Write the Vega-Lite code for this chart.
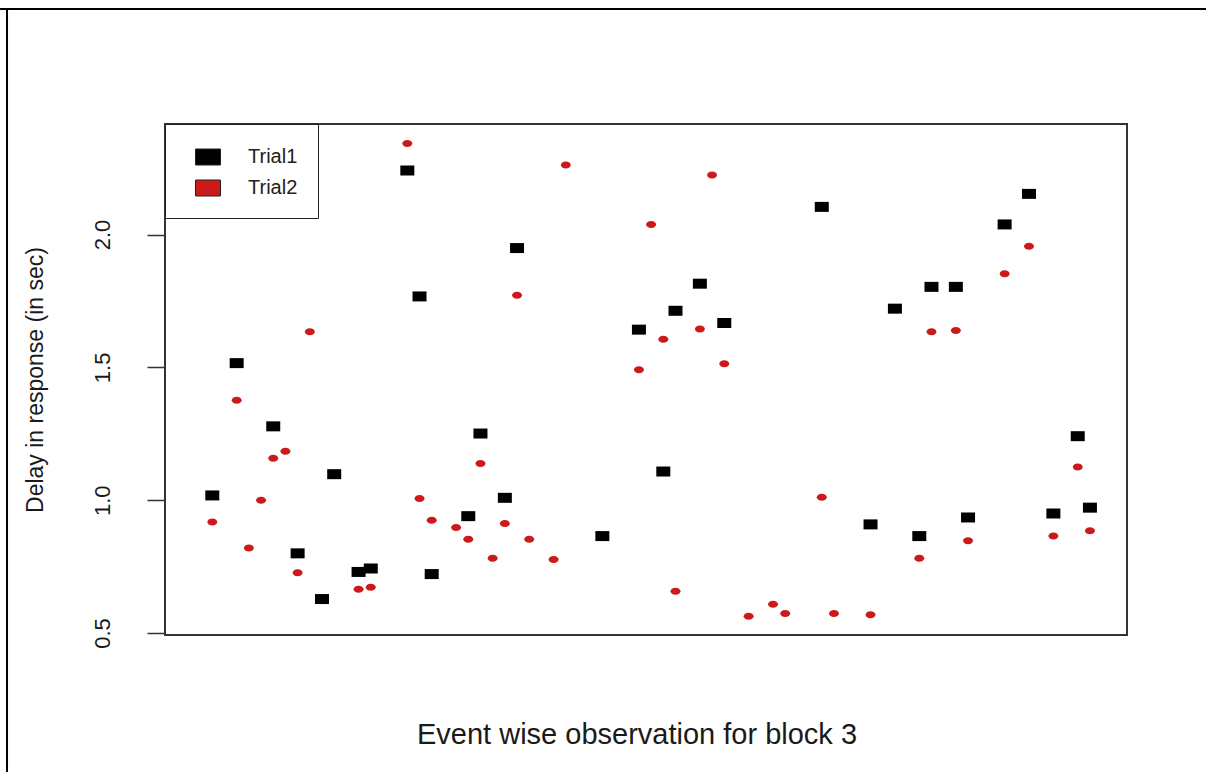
{
  "$schema": "https://vega.github.io/schema/vega-lite/v6.json",
  "width": 962,
  "height": 511,
  "autosize": {"type": "none"},
  "padding": {"left": 165, "top": 124, "right": 79, "bottom": 137},
  "background": "white",
  "config": {
    "view": {"stroke": "#333333", "strokeWidth": 2},
    "font": "Liberation Sans",
    "axis": {"grid": false},
    "axisY": {
      "domain": false, "grid": false,
      "tickSize": 18, "tickWidth": 1.5, "tickColor": "#333333",
      "labelAngle": 270, "labelAlign": "center", "labelBaseline": "middle",
      "labelPadding": 45, "labelFontSize": 22, "labelColor": "#1a1a1a",
      "labelFlush": false, "labelOverlap": false,
      "titleFontSize": 23, "titleFontWeight": "normal", "titleColor": "#1a1a1a",
      "titleX": -130, "titleY": 255.5, "titleAngle": 270,
      "titleAlign": "center", "titleBaseline": "middle"
    },
    "axisX": {
      "ticks": false, "labels": false, "domain": false, "grid": false,
      "titleFontSize": 29, "titleFontWeight": "normal", "titleColor": "#1a1a1a",
      "titleX": 471.5, "titleY": 108, "titleBaseline": "alphabetic", "titleAlign": "center"
    },
    "legend": {
      "orient": "top-left", "offset": 0, "padding": 20,
      "strokeColor": "#222222", "fillColor": "white",
      "symbolSize": 625, "symbolOffset": 10, "labelOffset": 27,
      "labelFontSize": 20, "labelColor": "#222222", "rowPadding": 8,
      "symbolStrokeColor": "#222222", "symbolStrokeWidth": 1, "symbolOpacity": 1
    }
  },
  "datasets": {
    "delays": [
      {"event": 2, "trial": "Trial1", "delay": 1.018},
      {"event": 4, "trial": "Trial1", "delay": 1.516},
      {"event": 7, "trial": "Trial1", "delay": 1.278},
      {"event": 9, "trial": "Trial1", "delay": 0.800},
      {"event": 11, "trial": "Trial1", "delay": 0.628},
      {"event": 12, "trial": "Trial1", "delay": 1.098},
      {"event": 14, "trial": "Trial1", "delay": 0.730},
      {"event": 15, "trial": "Trial1", "delay": 0.743},
      {"event": 18, "trial": "Trial1", "delay": 2.241},
      {"event": 19, "trial": "Trial1", "delay": 1.767},
      {"event": 20, "trial": "Trial1", "delay": 0.722},
      {"event": 23, "trial": "Trial1", "delay": 0.940},
      {"event": 24, "trial": "Trial1", "delay": 1.251},
      {"event": 26, "trial": "Trial1", "delay": 1.009},
      {"event": 27, "trial": "Trial1", "delay": 1.949},
      {"event": 34, "trial": "Trial1", "delay": 0.865},
      {"event": 37, "trial": "Trial1", "delay": 1.642},
      {"event": 39, "trial": "Trial1", "delay": 1.108},
      {"event": 40, "trial": "Trial1", "delay": 1.713},
      {"event": 42, "trial": "Trial1", "delay": 1.815},
      {"event": 44, "trial": "Trial1", "delay": 1.667},
      {"event": 52, "trial": "Trial1", "delay": 2.104},
      {"event": 56, "trial": "Trial1", "delay": 0.909},
      {"event": 58, "trial": "Trial1", "delay": 1.721},
      {"event": 60, "trial": "Trial1", "delay": 0.865},
      {"event": 61, "trial": "Trial1", "delay": 1.803},
      {"event": 63, "trial": "Trial1", "delay": 1.803},
      {"event": 64, "trial": "Trial1", "delay": 0.935},
      {"event": 67, "trial": "Trial1", "delay": 2.038},
      {"event": 69, "trial": "Trial1", "delay": 2.153},
      {"event": 71, "trial": "Trial1", "delay": 0.950},
      {"event": 73, "trial": "Trial1", "delay": 1.241},
      {"event": 74, "trial": "Trial1", "delay": 0.972},
      {"event": 2, "trial": "Trial2", "delay": 0.918},
      {"event": 4, "trial": "Trial2", "delay": 1.376},
      {"event": 5, "trial": "Trial2", "delay": 0.820},
      {"event": 6, "trial": "Trial2", "delay": 1.000},
      {"event": 7, "trial": "Trial2", "delay": 1.158},
      {"event": 8, "trial": "Trial2", "delay": 1.184},
      {"event": 9, "trial": "Trial2", "delay": 0.727},
      {"event": 10, "trial": "Trial2", "delay": 1.634},
      {"event": 14, "trial": "Trial2", "delay": 0.665},
      {"event": 15, "trial": "Trial2", "delay": 0.672},
      {"event": 18, "trial": "Trial2", "delay": 2.343},
      {"event": 19, "trial": "Trial2", "delay": 1.006},
      {"event": 20, "trial": "Trial2", "delay": 0.925},
      {"event": 22, "trial": "Trial2", "delay": 0.897},
      {"event": 23, "trial": "Trial2", "delay": 0.853},
      {"event": 24, "trial": "Trial2", "delay": 1.138},
      {"event": 25, "trial": "Trial2", "delay": 0.782},
      {"event": 26, "trial": "Trial2", "delay": 0.912},
      {"event": 27, "trial": "Trial2", "delay": 1.771},
      {"event": 28, "trial": "Trial2", "delay": 0.853},
      {"event": 30, "trial": "Trial2", "delay": 0.777},
      {"event": 31, "trial": "Trial2", "delay": 2.262},
      {"event": 37, "trial": "Trial2", "delay": 1.491},
      {"event": 38, "trial": "Trial2", "delay": 2.038},
      {"event": 39, "trial": "Trial2", "delay": 1.606},
      {"event": 40, "trial": "Trial2", "delay": 0.657},
      {"event": 42, "trial": "Trial2", "delay": 1.644},
      {"event": 43, "trial": "Trial2", "delay": 2.224},
      {"event": 44, "trial": "Trial2", "delay": 1.514},
      {"event": 46, "trial": "Trial2", "delay": 0.563},
      {"event": 48, "trial": "Trial2", "delay": 0.608},
      {"event": 49, "trial": "Trial2", "delay": 0.574},
      {"event": 52, "trial": "Trial2", "delay": 1.011},
      {"event": 53, "trial": "Trial2", "delay": 0.574},
      {"event": 56, "trial": "Trial2", "delay": 0.569},
      {"event": 60, "trial": "Trial2", "delay": 0.782},
      {"event": 61, "trial": "Trial2", "delay": 1.634},
      {"event": 63, "trial": "Trial2", "delay": 1.639},
      {"event": 64, "trial": "Trial2", "delay": 0.847},
      {"event": 67, "trial": "Trial2", "delay": 1.852},
      {"event": 69, "trial": "Trial2", "delay": 1.956},
      {"event": 71, "trial": "Trial2", "delay": 0.865},
      {"event": 73, "trial": "Trial2", "delay": 1.125},
      {"event": 74, "trial": "Trial2", "delay": 0.885}
    ],
    "one": [{}]
  },
  "layer": [
    {
      "data": {"name": "delays"},
      "transform": [{"filter": "datum.trial === 'Trial1'"}],
      "mark": {"type": "point", "filled": true, "opacity": 1, "size": 196, "strokeWidth": 0,
               "shape": "M-1,-0.714L1,-0.714L1,0.714L-1,0.714Z"},
      "encoding": {
        "x": {
          "field": "event", "type": "quantitative",
          "title": "Event wise observation for block 3",
          "scale": {"domain": [-1.88, 77.04], "nice": false, "zero": false}
        },
        "y": {
          "field": "delay", "type": "quantitative",
          "title": "Delay in response (in sec)",
          "scale": {"domain": [0.4927, 2.416], "nice": false, "zero": false},
          "axis": {"values": [0.5, 1, 1.5, 2], "format": ".1f"}
        },
        "color": {
          "field": "trial", "type": "nominal",
          "scale": {"domain": ["Trial1", "Trial2"], "range": ["#000000", "#cc1a1a"]},
          "legend": {
            "title": null,
            "symbolType": "M-1,-0.64L1,-0.64L1,0.64L-1,0.64Z"
          }
        }
      }
    },
    {
      "data": {"name": "delays"},
      "transform": [{"filter": "datum.trial === 'Trial2'"}],
      "mark": {"type": "point", "filled": true, "opacity": 1, "size": 196, "strokeWidth": 0,
               "shape": "M-0.714,0A0.714,0.5,0,1,0,0.714,0A0.714,0.5,0,1,0,-0.714,0Z"},
      "encoding": {
        "x": {"field": "event", "type": "quantitative", "title": "Event wise observation for block 3"},
        "y": {"field": "delay", "type": "quantitative", "title": "Delay in response (in sec)"},
        "color": {"field": "trial", "type": "nominal"}
      }
    },
    {
      "data": {"name": "one"},
      "mark": {"type": "rule", "color": "#000000", "strokeWidth": 2},
      "encoding": {
        "x": {"datum": -16, "type": "quantitative", "title": "Event wise observation for block 3"},
        "x2": {"datum": 84},
        "y": {"datum": 2.849, "type": "quantitative", "title": "Delay in response (in sec)"}
      }
    },
    {
      "data": {"name": "one"},
      "mark": {"type": "rule", "color": "#000000", "strokeWidth": 2},
      "encoding": {
        "x": {"datum": -14.84, "type": "quantitative", "title": "Event wise observation for block 3"},
        "y": {"datum": 2.849, "type": "quantitative", "title": "Delay in response (in sec)"},
        "y2": {"datum": -0.1}
      }
    }
  ]
}
